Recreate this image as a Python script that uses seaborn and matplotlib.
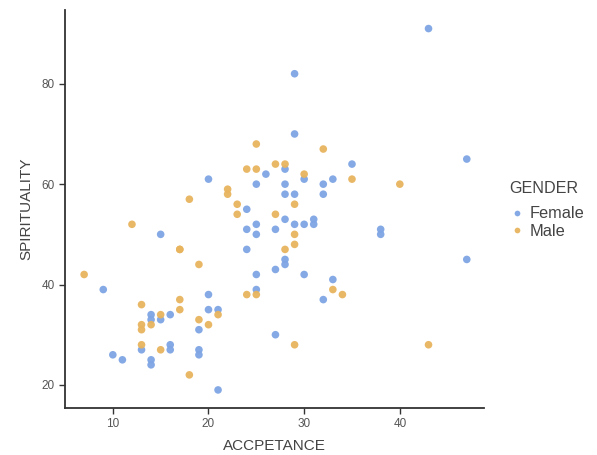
import matplotlib
matplotlib.use('Agg')
import matplotlib.pyplot as plt
import seaborn as sns
import pandas as pd

# 값은 그림에서 읽음 (ACCPETANCE, SPIRITUALITY)
female_acc = [43, 29, 29, 47, 35, 28, 26, 30, 33, 20, 25, 28, 32, 28, 29, 32, 24, 28, 31, 25,
              29, 30, 31, 24, 27, 38, 25, 15, 38, 24, 28, 47, 28, 27, 25, 30, 33, 9, 25, 20,
              32, 20, 21, 14, 16, 14, 15, 19, 27, 13, 16, 16, 19, 10, 19, 11, 14, 14, 21]
female_spi = [91, 82, 70, 65, 64, 63, 62, 61, 61, 61, 60, 60, 60, 58, 58, 58, 55, 53, 53, 52,
              52, 52, 52, 51, 51, 51, 50, 50, 50, 47, 45, 45, 44, 43, 42, 42, 41, 39, 39, 38,
              37, 35, 35, 34, 34, 33, 33, 31, 30, 27, 28, 27, 27, 26, 26, 25, 25, 24, 19]

male_acc = [25, 32, 27, 28, 24, 25, 30, 35, 40, 22, 22, 18, 23, 29, 23, 27, 12, 29, 29, 17,
            17, 28, 19, 7, 33, 24, 25, 34, 17, 13, 17, 15, 21, 19, 13, 14, 20, 13, 13, 15,
            29, 43, 18]
male_spi = [68, 67, 64, 64, 63, 63, 62, 61, 60, 59, 58, 57, 56, 56, 54, 54, 52, 50, 48, 47,
            47, 47, 44, 42, 39, 38, 38, 38, 37, 36, 35, 34, 34, 33, 32, 32, 32, 31, 28, 27,
            28, 28, 22]

df = pd.DataFrame({
    'ACCPETANCE': female_acc + male_acc,
    'SPIRITUALITY': female_spi + male_spi,
    'GENDER': ['Female'] * len(female_acc) + ['Male'] * len(male_acc),
})

sns.set_style('white')
plt.rcParams['font.family'] = ['Liberation Sans', 'DejaVu Sans']

fig = plt.figure(figsize=(5.97, 4.55), dpi=100)
ax = fig.add_axes([65 / 597, 1 - 408 / 455, (484 - 65) / 597, (408 - 10) / 455])

sns.scatterplot(data=df, x='ACCPETANCE', y='SPIRITUALITY', hue='GENDER',
                palette={'Female': '#7FA5E4', 'Male': '#E8B45E'},
                s=30, linewidth=0, alpha=0.95, ax=ax)

ax.set_xlim(5, 48.8)
ax.set_ylim(15.4, 94.7)
ax.set_xticks([10, 20, 30, 40])
ax.set_yticks([20, 40, 60, 80])

sns.despine(ax=ax)
for sp in ['left', 'bottom']:
    ax.spines[sp].set_color('#333333')
    ax.spines[sp].set_linewidth(1.3)
ax.tick_params(axis='both', direction='out', length=4, width=1, color='#333333',
               labelsize=8.5, labelcolor='#555555', left=True, bottom=True)
ax.set_xlabel('ACCPETANCE', fontsize=11, color='#444444', labelpad=6)
ax.set_ylabel('SPIRITUALITY', fontsize=11, color='#444444', labelpad=6)

leg = ax.legend(title='GENDER', loc='upper left', bbox_to_anchor=(1.045, 0.587),
                frameon=False, fontsize=11.8, title_fontsize=11.6,
                handlelength=0.95, handletextpad=0.3, borderaxespad=0,
                labelspacing=0.16, markerscale=0.75)
leg._legend_box.align = 'left'
leg._legend_box.sep = 7.5
for t in leg.get_texts():
    t.set_color('#444444')
leg.get_title().set_color('#444444')

fig.savefig('out.png', dpi=100)
